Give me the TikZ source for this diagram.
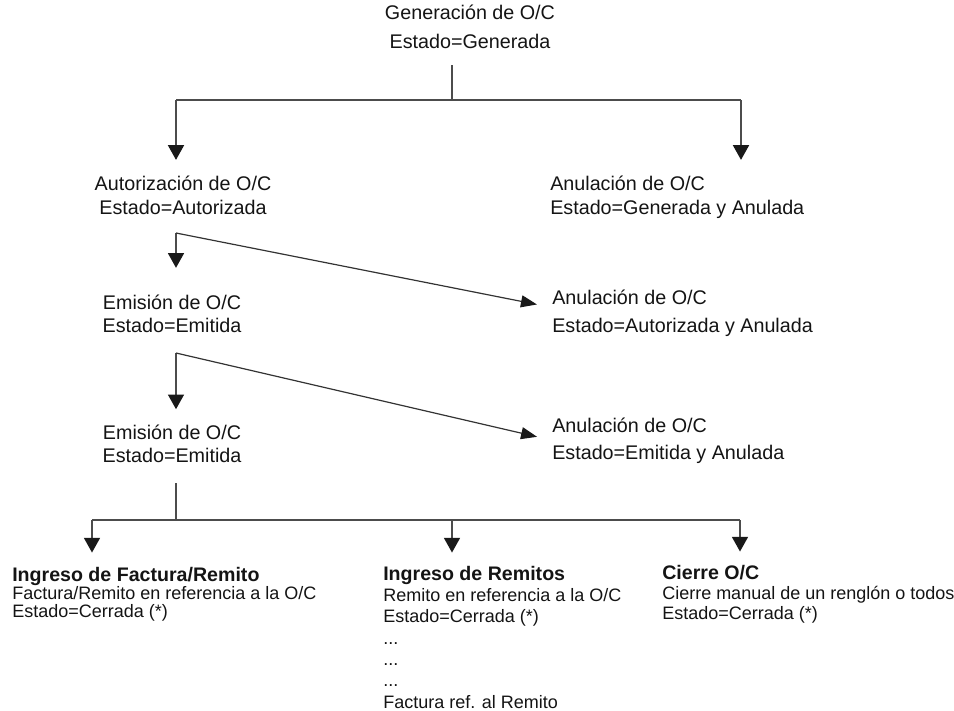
\documentclass[tikz,border=0pt]{standalone}
\usepackage{fontspec}
\setmainfont{Liberation Sans}
\usetikzlibrary{arrows.meta}

\begin{document}
\begin{tikzpicture}[
    x=0.75pt, y=-0.75pt,
    >={Triangle[width=12pt,length=11pt,color=black!90]},
    txt/.style={inner sep=0pt, text=black!92},
    mid/.style={txt, font=\fontsize{14.8}{#1}\selectfont},
    low/.style={txt, align=left, anchor=base west, font=\fontsize{13.5}{#1}\selectfont},
    link/.style={draw=black!70, line width=1.1pt},
    flow/.style={link, ->, shorten >=#1},
    cancel/.style={draw=black!80, line width=0.9pt, -{Triangle[width=9pt,length=12pt,color=black!90]}, shorten >=11.5pt}
]

\useasboundingbox (0,0) rectangle (954,711);

% ------------------------------------------
% states of the O/C (placed at the baseline of the last line)
% ------------------------------------------
\node[mid=21.75pt, align=center, anchor=base] (gen) at (470,48) {Generación de O/C\\Estado=Generada};

\node[mid=18pt, align=center, anchor=base] (aut) at (183,214) {Autorización de O/C\\Estado=Autorizada};
\node[mid=18pt, align=left, anchor=base west] (anu1) at (550,214) {Anulación de O/C\\Estado=Generada y Anulada};

\node[mid=17.25pt, align=center, anchor=base] (emi1) at (172,332) {Emisión de O/C\\Estado=Emitida};
\node[mid=21pt, align=left, anchor=base west] (anu2) at (552,332) {Anulación de O/C\\Estado=Autorizada y Anulada};

\node[mid=17pt, align=center, anchor=base] (emi2) at (172,462) {Emisión de O/C\\Estado=Emitida};
\node[mid=20.25pt, align=left, anchor=base west] (anu3) at (552,459) {Anulación de O/C\\Estado=Emitida y Anulada};

% final steps
\node[low=13.5pt] (fac) at (12,617) {{\fontsize{14.7}{14}\selectfont\bfseries Ingreso de Factura/Remito}\\Factura/Remito en referencia a la O/C\\Estado=Cerrada (*)};
\node[low=16pt] (rem) at (383,708) {{\fontsize{14.7}{14}\selectfont\bfseries Ingreso de Remitos}\\Remito en referencia a la O/C\\Estado=Cerrada (*)\\...\\...\\...\\Factura ref. al Remito};
\node[low=15pt] (cie) at (662,619) {{\fontsize{14.7}{14}\selectfont\bfseries Cierre O/C}\\Cierre manual de un renglón o todos\\Estado=Cerrada (*)};

% ------------------------------------------
% branch points
% ------------------------------------------
\coordinate (g0) at (452,65);
\coordinate (b1l) at (176,100);
\coordinate (b1r) at (741,100);
\coordinate (c1) at (176,233);
\coordinate (c2) at (176,353);
\coordinate (c3) at (176,483);
\coordinate (b2l) at (92,520);
\coordinate (b2m) at (452,520);
\coordinate (b2r) at (740,520);

% ------------------------------------------
% connectors
% ------------------------------------------
\draw[link] (g0) -- (g0 |- b1l);
\draw[link] (b1l) -- (b1r);
\draw[flow=11.5pt] (b1l) -- (b1l |- aut.north);
\draw[flow=11.5pt] (b1r) -- (b1r |- anu1.north);

\draw[flow=19.8pt] (c1) -- (c1 |- emi1.north);
\draw[cancel] (c1) -- ([yshift=4pt]anu2.west);

\draw[flow=11.5pt] (c2) -- (c2 |- emi2.north);
\draw[cancel] (c2) -- (anu3.west);

\draw[link] (c3) -- (c3 |- b2l);
\draw[link] (b2l) -- (b2r);
\draw[flow=10.5pt] (b2l) -- (b2l |- fac.north);
\draw[flow=9.75pt] (b2m) -- (b2m |- rem.north);
\draw[flow=9.75pt] (b2r) -- (b2r |- cie.north);

\end{tikzpicture}
\end{document}
